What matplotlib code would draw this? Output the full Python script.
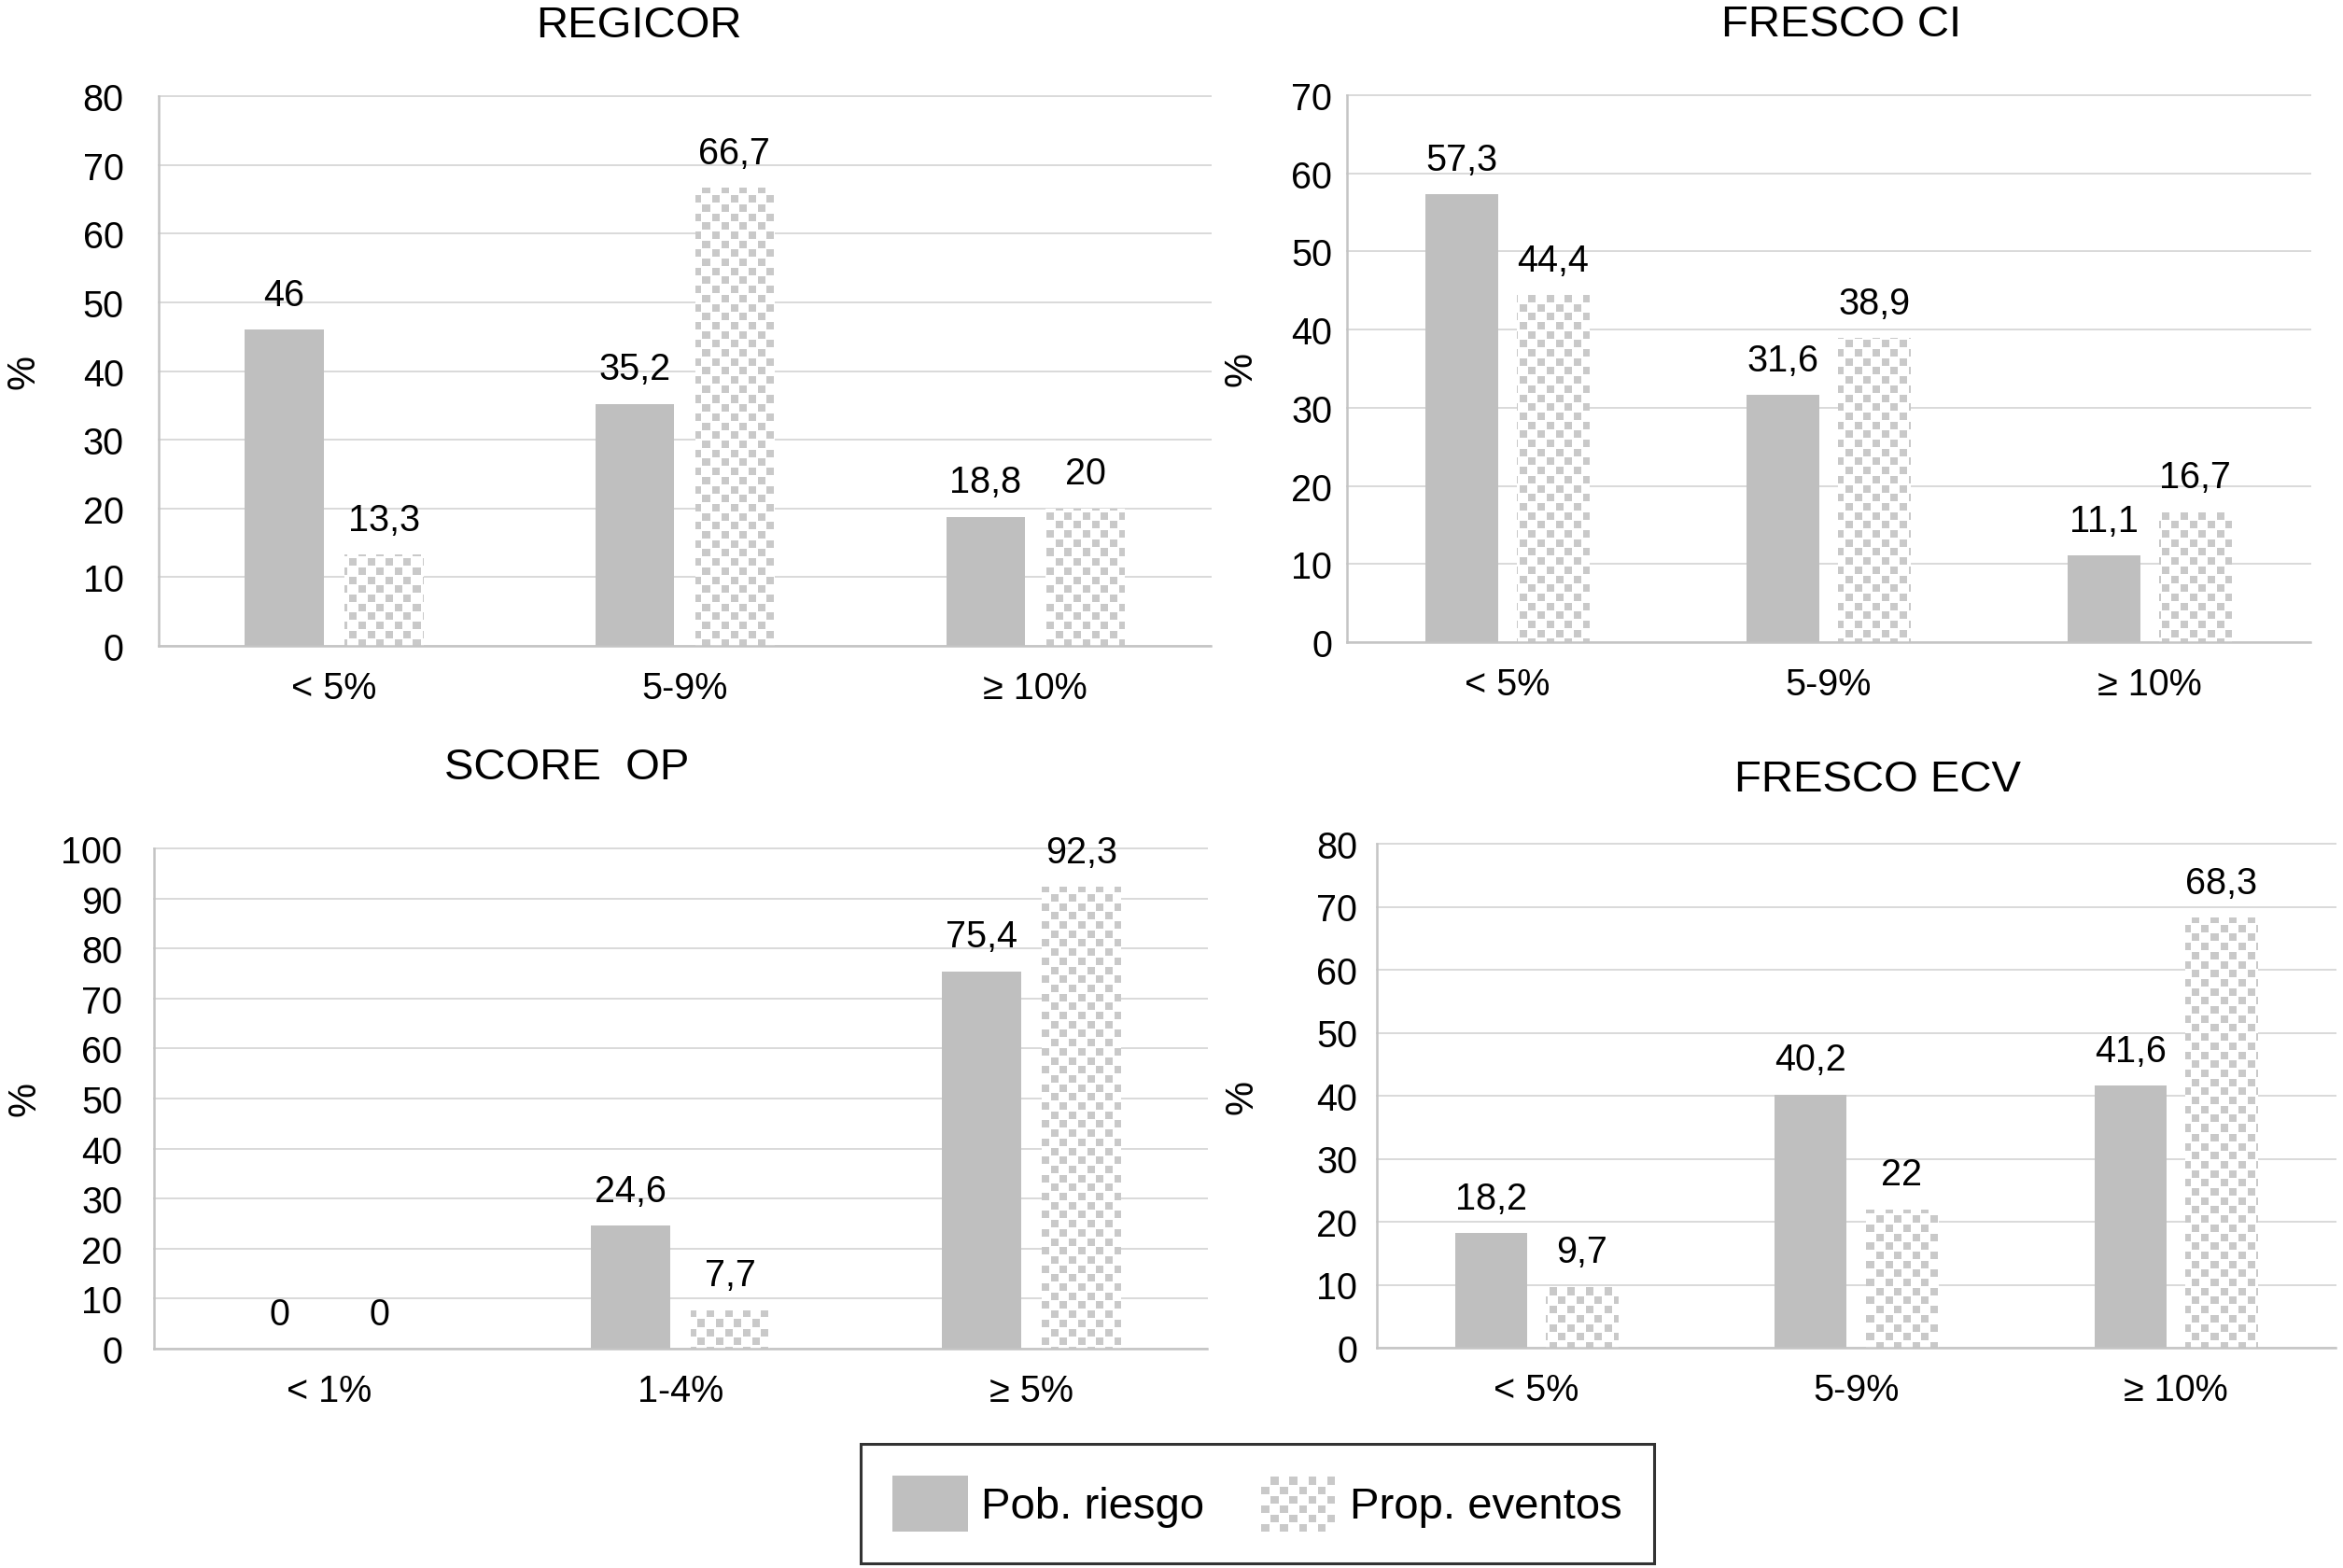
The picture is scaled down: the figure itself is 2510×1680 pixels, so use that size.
import numpy as np
import matplotlib
matplotlib.use("Agg")
import matplotlib.pyplot as plt
from matplotlib.patches import Patch, Rectangle
from matplotlib.legend_handler import HandlerBase

plt.rcParams['font.family'] = ['Liberation Sans', 'DejaVu Sans']

# ---------------- data ----------------
titles = ["REGICOR", "FRESCO CI", "SCORE  OP", "FRESCO ECV"]
cats_a = ["< 5%", "5-9%", "\u2265 10%"]
cats_b = ["< 1%", "1-4%", "\u2265 5%"]
regicor_pob = [46, 35.2, 18.8]
regicor_prop = [13.3, 66.7, 20]
fresco_ci_pob = [57.3, 31.6, 11.1]
fresco_ci_prop = [44.4, 38.9, 16.7]
score_pob = [0, 24.6, 75.4]
score_prop = [0, 7.7, 92.3]
fresco_ecv_pob = [18.2, 40.2, 41.6]
fresco_ecv_prop = [9.7, 22, 68.3]
ymaxs = [80, 70, 100, 80]
series_names = ["Pob. riesgo", "Prop. eventos"]

SOLID = "#bfbfbf"
CHECK = (0.79, 0.79, 0.79)
GRID = "#d9d9d9"
SPINE = "#c4c4c4"

W, H = 2510, 1681
fig = plt.figure(figsize=(W / 100, H / 100), dpi=100)

def frac(l, r, t, b):
    return [l / W, 1 - b / H, (r - l) / W, (b - t) / H]

boxes = [frac(170, 1297, 104, 693), frac(1443, 2475, 103, 689),
         frac(165, 1293, 910, 1446), frac(1475, 2502, 905, 1445)]
ypads = [27, 11.5, 24.5, 15]
ylab_x = [-0.128, -0.1095, -0.123, -0.141]
title_pos = [(684, 28), (1973, 27), (607, 823), (2012, 836)]

panels = [(cats_a, regicor_pob, regicor_prop),
          (cats_a, fresco_ci_pob, fresco_ci_prop),
          (cats_b, score_pob, score_prop),
          (cats_a, fresco_ecv_pob, fresco_ecv_prop)]

def fmt(v):
    if float(v).is_integer():
        return str(int(v))
    return ("%.1f" % v).replace(".", ",")

def checker(wpx, hpx, cell=9.7, frac_sq=0.82):
    yy, xx = np.mgrid[0:hpx, 0:wpx]
    cx = np.floor(xx / cell).astype(int)
    cy = np.floor(yy / cell).astype(int)
    inx = (xx - cx * cell) < cell * frac_sq
    iny = (yy - cy * cell) < cell * frac_sq
    on = ((cx + cy) % 2 == 0) & inx & iny
    img = np.ones((hpx, wpx, 3))
    img[on] = CHECK
    return img

width = 0.225
off = 0.142
for i, (cats, pob, prop) in enumerate(panels):
    ax = fig.add_axes(boxes[i])
    x = np.arange(len(cats))
    b1 = ax.bar(x - off, pob, width, color=SOLID, zorder=2)
    b2 = ax.bar(x + off, prop, width, color="white", zorder=2)
    ax.set_xlim(-0.5, len(cats) - 0.5)
    ax.set_ylim(0, ymaxs[i])
    ax.set_yticks(np.arange(0, ymaxs[i] + 1, 10))
    ax.set_xticks(x)
    ax.set_xticklabels(cats)
    ax.tick_params(axis='both', length=0, labelsize=28.5, colors='black')
    ax.tick_params(axis='y', pad=ypads[i])
    ax.tick_params(axis='x', pad=19)
    ax.grid(axis='y', color=GRID, linewidth=1.4)
    ax.set_axisbelow(True)
    for ln in ax.get_ygridlines():
        ln.set_clip_on(False)
    for s in ("top", "right"):
        ax.spines[s].set_visible(False)
    ax.spines["left"].set_color(SPINE)
    ax.spines["left"].set_linewidth(1.8)
    ax.spines["bottom"].set_color(SPINE)
    ax.spines["bottom"].set_linewidth(1.8)
    ax.set_ylabel("%", fontsize=30, va='center')
    ax.yaxis.set_label_coords(ylab_x[i], 0.5)

    # checker pattern clipped to each "Prop. eventos" bar
    wpx = int(round(ax.bbox.width))
    hpx = int(round(ax.bbox.height))
    img = checker(wpx, hpx)
    xl, yl = ax.get_xlim(), ax.get_ylim()
    for bar in b2:
        if bar.get_height() <= 0:
            continue
        im = ax.imshow(img, extent=(xl[0], xl[1], yl[0], yl[1]), origin='upper',
                       aspect='auto', interpolation='nearest', zorder=2.5)
        im.set_clip_path(bar)
    ax.set_xlim(xl)
    ax.set_ylim(yl)

    for bars, vals in ((b1, pob), (b2, prop)):
        for bar, v in zip(bars, vals):
            ax.annotate(fmt(v), (bar.get_x() + bar.get_width() / 2, bar.get_height()),
                        xytext=(0, 19), textcoords='offset points',
                        ha='center', va='baseline', fontsize=28.5, zorder=5)

    tx, ty = title_pos[i]
    fig.text(tx / W, 1 - ty / H, titles[i], ha='center', va='center', fontsize=34)

# ---------------- legend ----------------
class CheckerHandle:
    pass

class HandlerChecker(HandlerBase):
    def create_artists(self, legend, orig_handle, xdescent, ydescent, width, height,
                       fontsize, trans):
        arts = []
        nx = 8
        cw = width / nx
        ny = max(1, int(round(height / cw)))
        ch = height / ny
        for ix in range(nx):
            for iy in range(ny):
                if (ix + iy) % 2 == 0:
                    r = Rectangle((-xdescent + ix * cw, -ydescent + iy * ch),
                                  cw * 0.82, ch * 0.82, facecolor=CHECK,
                                  edgecolor='none', transform=trans)
                    arts.append(r)
        return arts

handles = [Patch(facecolor=SOLID, edgecolor='none'), CheckerHandle()]
leg = fig.legend(handles, series_names, loc='center',
                 bbox_to_anchor=(1347 / W, 1 - 1612 / H),
                 ncol=2, fontsize=34, frameon=True, fancybox=False,
                 edgecolor='black', handlelength=1.7, handleheight=1.6,
                 handletextpad=0.3, columnspacing=1.3, borderpad=0.72,
                 handler_map={CheckerHandle: HandlerChecker()})
leg.get_frame().set_linewidth(2.2)

fig.savefig("out.png", dpi=100, facecolor='white')
